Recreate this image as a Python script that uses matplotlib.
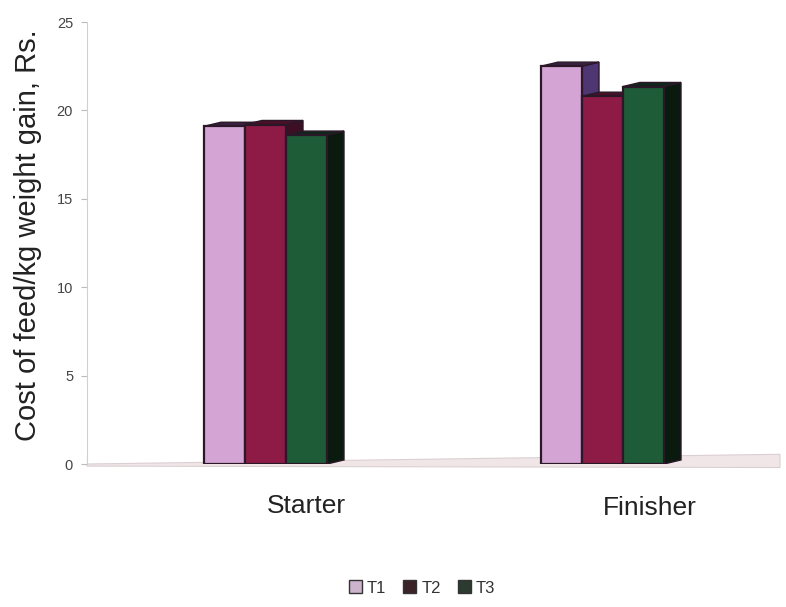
import numpy as np
import matplotlib.pyplot as plt
from matplotlib.patches import Polygon, Patch

plt.rcParams['font.family'] = ['Liberation Sans', 'DejaVu Sans']

# cost of feed per kg weight gain (Rs.)
stages = ['Starter', 'Finisher']
treatments = ['T1', 'T2', 'T3']
cost_t1 = [19.1, 22.5]
cost_t2 = [19.2, 20.8]
cost_t3 = [18.6, 21.35]

# face colours per treatment: front, side, top
front_col = ['#d4a4d4', '#8d1b46', '#1e5b37']
side_col = ['#4e3672', '#3c0f24', '#0a1a0e']
top_col = ['#3a2040', '#4a1028', '#10261a']
edge_col = '#2a1828'

bar_w = 41.0
group_step = 337.0
first_left = 117.0
dx, dy = 17.0, 0.23   # depth of the pseudo 3d boxes

fig = plt.figure(figsize=(7.86, 6.07), dpi=100)
ax = fig.add_axes([87/786, (607-464)/607, (780-87)/786, (464-22)/607])
ax.set_xlim(0, 693)
ax.set_ylim(0, 25)

# floor under the bars
floor = Polygon([(0, 0.0), (693, 0.55), (693, -0.2), (0, -0.12)],
                closed=True, facecolor='#f0e6e8', edgecolor='#dccfd2',
                lw=0.8, clip_on=False, zorder=1)
ax.add_patch(floor)

series = [cost_t1, cost_t2, cost_t3]
for g in range(len(stages)):
    for k, vals in enumerate(series):
        v = vals[g]
        x0 = first_left + g * group_step + k * bar_w
        x1 = x0 + bar_w
        z = 3 + k * 3
        side = Polygon([(x1, 0), (x1 + dx, dy), (x1 + dx, v + dy), (x1, v)],
                       closed=True, facecolor=side_col[k], edgecolor=edge_col,
                       lw=1.0, zorder=z)
        top = Polygon([(x0, v), (x0 + dx, v + dy), (x1 + dx, v + dy), (x1, v)],
                      closed=True, facecolor=top_col[k], edgecolor=edge_col,
                      lw=1.0, zorder=z)
        ax.add_patch(side)
        ax.add_patch(top)
        ax.bar(x0, v, width=bar_w, align='edge', color=front_col[k],
               edgecolor=edge_col, linewidth=1.6, zorder=z + 1)

# category labels
label_x = [219, 563]
label_y = [-2.35, -2.5]
for name, lx, ly in zip(stages, label_x, label_y):
    ax.text(lx, ly, name, ha='center', va='center', fontsize=19,
            color='#222222')

ax.set_yticks(np.arange(0, 26, 5))
ax.set_xticks([])
for s in ['top', 'right', 'bottom']:
    ax.spines[s].set_visible(False)
ax.spines['left'].set_color('#d0d0d0')
ax.tick_params(axis='y', direction='out', length=4, color='#bbbbbb',
               labelsize=10.5, labelcolor='#444444', pad=6)

fig.text(28/786, 1 - 235/607, 'Cost of feed/kg weight gain, Rs.',
         rotation=90, ha='center', va='center', fontsize=21, color='#222222')

handles = [Patch(facecolor='#cbb4cc', edgecolor='#333333'),
           Patch(facecolor='#3a2428', edgecolor='#333333'),
           Patch(facecolor='#2c3b30', edgecolor='#333333')]
fig.legend(handles, treatments, loc='center', bbox_to_anchor=(422/786, 1 - 588/607),
           ncol=3, frameon=False, fontsize=12, handlelength=0.8, handleheight=0.8,
           handletextpad=0.3, columnspacing=1.0, labelcolor='#333333')

fig.savefig('out.png', dpi=100)
